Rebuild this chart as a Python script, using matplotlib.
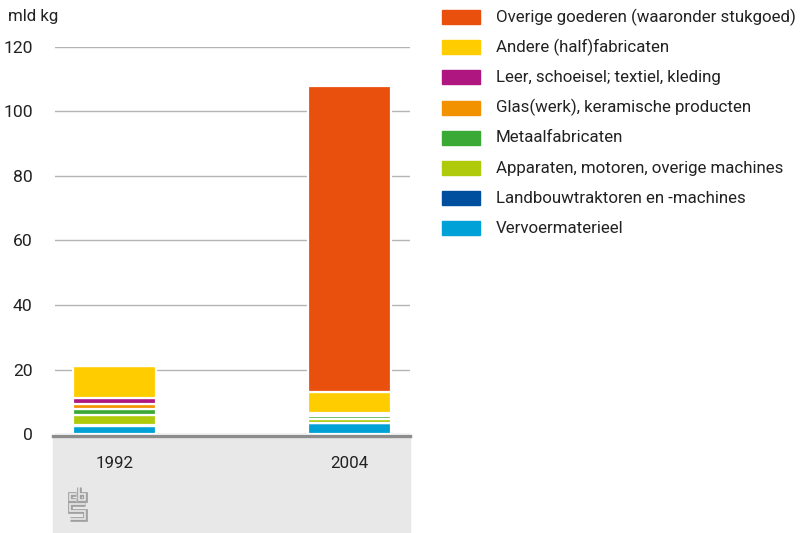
import matplotlib
matplotlib.use('Agg')
import matplotlib.pyplot as plt
from matplotlib.patches import Rectangle
import numpy as np

years = ['1992', '2004']
categories = [
    'Vervoermaterieel',
    'Landbouwtraktoren en -machines',
    'Apparaten, motoren, overige machines',
    'Metaalfabricaten',
    'Glas(werk), keramische producten',
    'Leer, schoeisel; textiel, kleding',
    'Andere (half)fabricaten',
    'Overige goederen (waaronder stukgoed)',
]
values_1992 = [2.6, 0.3, 2.9, 2.0, 1.45, 1.95, 10.0, 0.0]
values_2004 = [3.3, 0.1, 1.3, 0.85, 0.5, 0.45, 6.55, 95.0]
colors = ['#00a1d6', '#004f9f', '#afca0b', '#3aa935', '#f39200',
          '#af167f', '#ffcc00', '#e9500e']

plt.rcParams['font.family'] = ['Roboto', 'DejaVu Sans']

fig = plt.figure(figsize=(8.09, 5.33), dpi=100)
W, H = 809, 533
fs = 12.2

# grey band under the axis
fig.patches.append(Rectangle((53 / W, 0), (410 - 53) / W, (533 - 437) / H,
                             transform=fig.transFigure, color='#e8e8e8', zorder=0))

ax = fig.add_axes([55 / W, (H - 434) / H, (410 - 55) / W, (434 - 47) / H])
ax.set_facecolor('none')
ax.set_zorder(2)

x = np.arange(len(years))
data = np.array([values_1992, values_2004])
bottom = np.zeros(len(years))
for i, c in enumerate(categories):
    ax.bar(x, data[:, i], bottom=bottom, width=0.353, color=colors[i],
           edgecolor='white', linewidth=1.6, zorder=3)
    bottom += data[:, i]

ax.set_ylim(0, 120)
ax.set_xlim(-0.253, 1.257)
ax.set_yticks(range(0, 121, 20))
ax.yaxis.grid(True, color='#b4b4b4', linewidth=1)
ax.set_axisbelow(True)
for s in ax.spines.values():
    s.set_visible(False)
ax.tick_params(axis='y', length=0, pad=16, labelsize=12.6, labelcolor='#222222')
ax.tick_params(axis='x', length=0, pad=16, labelsize=fs, labelcolor='#222222')
ax.set_xticks(x)
ax.set_xticklabels(years)

# baseline
fig.add_artist(plt.Line2D([53 / W, 410 / W], [(H - 435.5) / H] * 2,
                          color='#8c8c8c', linewidth=2.4, zorder=5))

fig.text(8 / W, (H - 17) / H, 'mld kg', fontsize=fs, color='#222222', va='center')

# legend
for k, i in enumerate(range(len(categories) - 1, -1, -1)):
    yc = 17 + k * 30.2
    fig.patches.append(Rectangle((442 / W, (H - yc - 7) / H), 38 / W, 14 / H,
                                 transform=fig.transFigure, color=colors[i]))
    fig.text(496 / W, (H - yc) / H, categories[i], fontsize=fs,
             color='#222222', va='center')

# cbs mark, drawn as hollow strokes
def seg(xs, ys):
    xs = [v / W for v in xs]
    ys = [(H - v) / H for v in ys]
    fig.add_artist(plt.Line2D(xs, ys, color='#a0a0a0', linewidth=3.4,
                              solid_joinstyle='miter', solid_capstyle='butt'))
    fig.add_artist(plt.Line2D(xs, ys, color='#e8e8e8', linewidth=1.2,
                              solid_joinstyle='miter', solid_capstyle='butt'))
seg([76, 69.5, 69.5, 76], [494, 494, 499.5, 499.5])
seg([79, 79, 84.5, 84.5, 79], [487, 499.5, 499.5, 494, 494])
seg([84.5, 69.5, 69.5, 84.5, 84.5, 69.5], [503.5, 503.5, 511, 511, 518.5, 518.5])

fig.savefig('out.png', dpi=100)
